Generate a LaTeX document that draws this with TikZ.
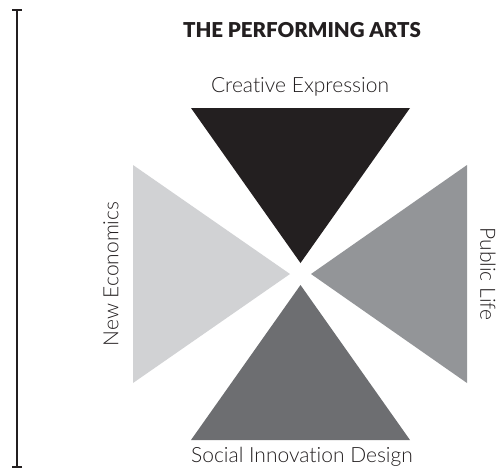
\documentclass[tikz,border=0pt]{standalone}
\usepackage{fontspec}
\setmainfont{Lato}
\newfontfamily\blackfont[Ligatures=NoCommon]{Lato Black}
\newfontfamily\lightfont[Ligatures=NoCommon]{Lato Light}
\usetikzlibrary{arrows.meta}
\definecolor{cblack}{HTML}{231F20}
\definecolor{clight}{HTML}{D1D2D4}
\definecolor{cmid}{HTML}{939598}
\definecolor{cdark}{HTML}{6D6E71}
\begin{document}
\begin{tikzpicture}[x=1pt,y=-1pt,
  lbl/.style={font=\lightfont\fontsize{21}{24}\selectfont, text=cblack, inner sep=0pt},
  ttl/.style={font=\blackfont\fontsize{20.5}{24}\selectfont, text=cblack, inner sep=0pt}]
\useasboundingbox (0,0) rectangle (503,472);
% vertical scale bar
\coordinate (bt) at (17,9);
\coordinate (bb) at (17,468);
\draw[cblack, line width=1.8pt, {Bar[width=10pt]}-{Bar[width=10pt]}] (bt) -- (bb);
% triangles
\fill[cblack] (191,108) -- (410,108) -- (300.5,263) -- cycle;
\fill[clight] (133,165) -- (133,383) -- (290,274) -- cycle;
\fill[cmid] (467,165) -- (467,383) -- (311,274) -- cycle;
\fill[cdark] (191,440) -- (410,440) -- (300.5,285) -- cycle;
% texts
\node[ttl] (title) at (302,30) {THE PERFORMING ARTS};
\node[lbl] (ce) at (300,87) {Creative Expression};
\node[lbl, rotate=90] (ne) at (111,274) {New Economics};
\node[lbl, rotate=-90] (pl) at (488,274) {Public Life};
\node[lbl] (sid) at (302,457) {Social Innovation Design};
\end{tikzpicture}
\end{document}
